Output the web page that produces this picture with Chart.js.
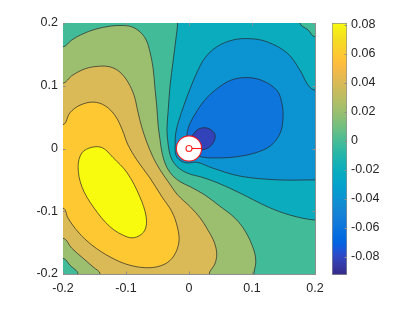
<!DOCTYPE html>
<html><head><meta charset="utf-8">
<script src="https://cdn.jsdelivr.net/npm/chart.js@4.4.1/dist/chart.umd.min.js"></script>
<style>
html,body{margin:0;padding:0;background:#fff;}
#wrap{position:relative;width:411px;height:309px;overflow:hidden;}
#main{position:absolute;left:0;top:0;}
#cbar{position:absolute;left:320px;top:0;}
</style></head><body>
<div id="wrap"><canvas id="main" width="411" height="309"></canvas><canvas id="cbar" width="91" height="309"></canvas></div>
<script>
// ---------- data (data units) ----------
const xTicks = [-0.2, -0.1, 0, 0.1, 0.2];
const yTicks = [-0.2, -0.1, 0, 0.1, 0.2];
const cbarTicks = [-0.08, -0.06, -0.04, -0.02, 0, 0.02, 0.04, 0.06, 0.08];
const colorLimits = [-0.0924, 0.0814];
const axisLimits = [-0.2, 0.2];

// contour level 0.00
const c000 = [[-0.2,0.162],[-0.186,0.173],[-0.170,0.182],[-0.149,0.190],[-0.125,0.195],[-0.106,0.196],[-0.091,0.194],[-0.078,0.186],[-0.068,0.173],[-0.062,0.154],[-0.057,0.128],[-0.054,0.096],[-0.051,0.065],[-0.049,0.037],[-0.046,0.014],[-0.043,-0.006],[-0.037,-0.026],[-0.027,-0.042],[-0.014,-0.053],[0.002,-0.061],[0.025,-0.074],[0.049,-0.092],[0.073,-0.111],[0.090,-0.133],[0.103,-0.162],[0.106,-0.181],[0.103,-0.2]];
const c000b = [[-0.2,-0.175],[-0.189,-0.186],[-0.176,-0.2]];
// contour level 0.02
const c002 = [[-0.2,0.104],[-0.186,0.116],[-0.165,0.127],[-0.144,0.131],[-0.125,0.130],[-0.110,0.122],[-0.097,0.106],[-0.087,0.084],[-0.081,0.058],[-0.075,0.034],[-0.067,0.010],[-0.057,-0.014],[-0.046,-0.034],[-0.033,-0.053],[-0.018,-0.074],[0.002,-0.093],[0.018,-0.111],[0.030,-0.130],[0.040,-0.149],[0.044,-0.168],[0.041,-0.184],[0.032,-0.2]];
const c002b = [[-0.2,-0.143],[-0.186,-0.159],[-0.168,-0.175],[-0.152,-0.189],[-0.141,-0.2]];
// contour level 0.04
const c004 = [[-0.2,0.038],[-0.189,0.057],[-0.173,0.069],[-0.152,0.074],[-0.133,0.068],[-0.117,0.052],[-0.106,0.030],[-0.097,0.006],[-0.083,-0.018],[-0.062,-0.047],[-0.043,-0.077],[-0.027,-0.101],[-0.018,-0.127],[-0.016,-0.149],[-0.024,-0.171],[-0.038,-0.184],[-0.062,-0.190],[-0.094,-0.186],[-0.125,-0.173],[-0.154,-0.154],[-0.176,-0.133],[-0.192,-0.111],[-0.2,-0.095]];
// contour level 0.06 (closed)
const c006 = [[-0.170,-0.007],[-0.154,0.002],[-0.137,0.001],[-0.121,-0.014],[-0.098,-0.039],[-0.078,-0.077],[-0.068,-0.109],[-0.070,-0.130],[-0.083,-0.141],[-0.098,-0.141],[-0.125,-0.125],[-0.152,-0.093],[-0.170,-0.061],[-0.176,-0.029]];
// contour level -0.02
const cm002 = [[-0.018,0.2],[-0.021,0.173],[-0.025,0.141],[-0.030,0.101],[-0.033,0.061],[-0.035,0.030],[-0.033,0.006],[-0.030,-0.010],[-0.024,-0.023],[-0.014,-0.033],[0.002,-0.041],[0.018,-0.045],[0.046,-0.055],[0.081,-0.071],[0.125,-0.093],[0.160,-0.106],[0.2,-0.114]];
const cm002b = [[0.176,0.2],[0.189,0.189],[0.2,0.178]];
// contour level -0.04
const cm004 = [[0.2,0.093],[0.189,0.101],[0.176,0.125],[0.156,0.152],[0.124,0.170],[0.097,0.175],[0.070,0.173],[0.044,0.162],[0.025,0.144],[0.013,0.122],[0.002,0.096],[-0.008,0.069],[-0.016,0.045],[-0.021,0.025],[-0.022,0.006],[-0.021,-0.010],[-0.014,-0.019],[-0.003,-0.023],[0.013,-0.022],[0.037,-0.031],[0.081,-0.044],[0.141,-0.050],[0.2,-0.050]];
// contour level -0.06 (closed)
const cm006 = [[-0.003,0.017],[0.000,0.036],[0.011,0.057],[0.025,0.077],[0.044,0.095],[0.067,0.109],[0.092,0.113],[0.117,0.108],[0.140,0.092],[0.148,0.069],[0.149,0.045],[0.144,0.023],[0.129,0.004],[0.105,-0.007],[0.073,-0.0135],[0.041,-0.015],[0.021,-0.0135],[0.006,-0.007]];
// contour level -0.08 (closed)
const cm008 = [[0.003,0.0135],[0.011,0.028],[0.022,0.033],[0.033,0.031],[0.041,0.023],[0.040,0.012],[0.032,0.002],[0.021,-0.002],[0.0095,-0.001]];
// probe marker: centre and radius
const probeCenter = [0, 0];
const probeRadius = 0.02;

// ---------- style ----------
const parula = [[0.2081,0.1663,0.5292],[0.2116,0.1898,0.5777],[0.2123,0.2138,0.6270],[0.2081,0.2386,0.6771],[0.1959,0.2645,0.7279],[0.1707,0.2919,0.7792],[0.1253,0.3242,0.8303],[0.0591,0.3598,0.8683],[0.0117,0.3875,0.8820],[0.0060,0.4086,0.8828],[0.0165,0.4266,0.8786],[0.0329,0.4430,0.8720],[0.0498,0.4586,0.8641],[0.0629,0.4737,0.8554],[0.0723,0.4887,0.8467],[0.0779,0.5040,0.8384],[0.0793,0.5200,0.8312],[0.0749,0.5375,0.8263],[0.0641,0.5570,0.8240],[0.0488,0.5772,0.8228],[0.0343,0.5966,0.8199],[0.0265,0.6137,0.8135],[0.0239,0.6287,0.8038],[0.0231,0.6418,0.7913],[0.0228,0.6535,0.7768],[0.0267,0.6642,0.7607],[0.0384,0.6743,0.7436],[0.0590,0.6838,0.7254],[0.0843,0.6928,0.7062],[0.1133,0.7015,0.6859],[0.1453,0.7098,0.6646],[0.1801,0.7177,0.6424],[0.2178,0.7250,0.6193],[0.2586,0.7317,0.5954],[0.3022,0.7376,0.5712],[0.3482,0.7424,0.5473],[0.3953,0.7459,0.5244],[0.4420,0.7481,0.5033],[0.4871,0.7491,0.4840],[0.5300,0.7491,0.4661],[0.5709,0.7485,0.4494],[0.6099,0.7473,0.4337],[0.6473,0.7456,0.4188],[0.6834,0.7435,0.4044],[0.7184,0.7411,0.3905],[0.7525,0.7384,0.3768],[0.7858,0.7356,0.3633],[0.8185,0.7327,0.3498],[0.8507,0.7299,0.3360],[0.8824,0.7274,0.3217],[0.9139,0.7258,0.3063],[0.9450,0.7261,0.2886],[0.9739,0.7314,0.2666],[0.9938,0.7455,0.2403],[0.9990,0.7653,0.2164],[0.9955,0.7861,0.1967],[0.9880,0.8066,0.1794],[0.9789,0.8271,0.1633],[0.9697,0.8481,0.1475],[0.9626,0.8705,0.1309],[0.9589,0.8949,0.1132],[0.9598,0.9218,0.0948],[0.9661,0.9514,0.0755],[0.9763,0.9831,0.0538]];
const rgb = c => 'rgb(' + c.map(v => Math.round(v * 255)).join(',') + ')';
function colorAt(v) {
  const t = (v - colorLimits[0]) / (colorLimits[1] - colorLimits[0]);
  const i = Math.min(63, Math.max(0, Math.round(t * 63)));
  return rgb(parula[i]);
}
const TEXT = '#262626';
const AXIS = '#8f8f8f';
const LINE = '#262626';
Chart.defaults.font.family = '"Liberation Sans", Arial, Helvetica, sans-serif';
Chart.defaults.font.size = 12.5;
Chart.defaults.color = TEXT;

// ---------- geometry helpers (extend edge points outside the axes so clipping hides joins) ----------
const B = axisLimits[1], E = 0.06;
function ext(p) {
  const [x, y] = p;
  if (Math.abs(x + B) < 1e-9) return [x - E, y];
  if (Math.abs(x - B) < 1e-9) return [x + E, y];
  if (Math.abs(y + B) < 1e-9) return [x, y - E];
  if (Math.abs(y - B) < 1e-9) return [x, y + E];
  return p;
}
const openPts = c => [ext(c[0]), ...c, ext(c[c.length - 1])];
const closedPts = c => [c[c.length - 1], ...c, c[0], c[1]];
const rev = c => c.slice().reverse();
const O = B + E;
const toXY = pts => pts.map(([x, y]) => ({x, y}));

const datasets = [];
function region(pts, color) {
  datasets.push({data: toXY(pts), showLine: true, fill: 'shape', backgroundColor: color,
    borderWidth: 0, pointRadius: 0, tension: 0.35, xAxisID: 'x', yAxisID: 'y'});
}
function contourLine(pts, closed) {
  const n = pts.length;
  datasets.push({data: toXY(pts), showLine: true, fill: false, borderColor: LINE, borderWidth: 0.7,
    pointRadius: 0, tension: 0.35, xAxisID: 'x', yAxisID: 'y',
    segment: closed ? {borderColor: s => (s.p0DataIndex === 0 || s.p1DataIndex === n - 1) ? 'rgba(0,0,0,0)' : LINE} : undefined});
}

// filled regions, bottom to top (colour = colormap at the region's upper level)
region([...openPts(c000), [-O, -O]], colorAt(0.02));               // >= 0.00
region([...openPts(c000b), [-O, -O]], colorAt(0));                  // < 0.00 corner
region([...openPts(c002), ...openPts(rev(c002b))], colorAt(0.04));  // >= 0.02
region(openPts(c004), colorAt(0.06));                               // >= 0.04
region(closedPts(c006), colorAt(colorLimits[1]));                   // >= 0.06
region([...openPts(cm002), [O, O]], colorAt(-0.02));                // <= -0.02
region([...openPts(cm002b), [O, O]], colorAt(0));                   // > -0.02 corner
region(openPts(cm004), colorAt(-0.04));                             // <= -0.04
region(closedPts(cm006), colorAt(-0.06));                           // <= -0.06
region(closedPts(cm008), colorAt(-0.08));                           // <= -0.08
// contour lines
[c000, c000b, c002, c002b, c004, cm002, cm002b, cm004].forEach(c => contourLine(openPts(c), false));
[c006, cm006, cm008].forEach(c => contourLine(closedPts(c), true));
// probe marker
const pxRadius = ctx => {
  const s = ctx.chart.scales.x;
  return Math.abs(s.getPixelForValue(probeCenter[0] + probeRadius) - s.getPixelForValue(probeCenter[0]));
};
datasets.push({data: [{x: probeCenter[0], y: probeCenter[1]}], showLine: false, pointRadius: pxRadius,
  pointBackgroundColor: '#ffffff', pointBorderColor: 'rgba(255,0,0,0.85)', pointBorderWidth: 1.1, xAxisID: 'x', yAxisID: 'y'});
datasets.push({data: [{x: probeCenter[0], y: probeCenter[1]}, {x: probeCenter[0] + probeRadius, y: probeCenter[1]}],
  showLine: true, fill: false, borderColor: 'rgba(255,0,0,0.9)', borderWidth: 1.1, pointRadius: 0, xAxisID: 'x', yAxisID: 'y'});
datasets.push({data: [{x: probeCenter[0], y: probeCenter[1]}], showLine: false, pointRadius: 3,
  pointBackgroundColor: '#ffffff', pointBorderColor: 'rgba(255,0,0,0.85)', pointBorderWidth: 1.1, xAxisID: 'x', yAxisID: 'y'});
datasets.forEach((d, i) => { d.order = -i; });

const bgPlugin = {
  id: 'areaBg',
  beforeDatasetsDraw(chart) {
    const a = chart.chartArea, ctx = chart.ctx;
    ctx.save(); ctx.fillStyle = colorAt(0); ctx.fillRect(a.left, a.top, a.right - a.left, a.bottom - a.top); ctx.restore();
  }
};
// inward tick marks (MATLAB style), placed from the scales' own ticks
const TL = 2.5;
const inTicks = {
  id: 'inTicks',
  afterDatasetsDraw(chart, args, opts) {
    const ctx = chart.ctx, a = chart.chartArea;
    ctx.save(); ctx.strokeStyle = AXIS; ctx.lineWidth = 1;
    (opts.axes || []).forEach(([id, sides]) => {
      const s = chart.scales[id];
      s.ticks.forEach(t => {
        const p = Math.round(s.getPixelForValue(t.value)) + 0.5;
        ctx.beginPath();
        if (s.isHorizontal()) {
          if (sides.includes('b')) { ctx.moveTo(p, a.bottom); ctx.lineTo(p, a.bottom - TL); }
          if (sides.includes('t')) { ctx.moveTo(p, a.top); ctx.lineTo(p, a.top + TL); }
        } else {
          if (sides.includes('l')) { ctx.moveTo(a.left, p); ctx.lineTo(a.left + TL, p); }
          if (sides.includes('r')) { ctx.moveTo(a.right, p); ctx.lineTo(a.right - TL, p); }
        }
        ctx.stroke();
      });
    });
    ctx.restore();
  }
};
const tickSet = arr => s => { s.ticks = arr.map(v => ({value: v})); };
const lab = v => String(Math.round(v * 1000) / 1000);

new Chart(document.getElementById('main'), {
  type: 'scatter',
  data: {datasets},
  options: {
    responsive: false, animation: false, events: [], indexAxis: 'y',
    layout: {padding: {left: 0, top: 23, right: 96, bottom: 0}},
    elements: {line: {capBezierPoints: false}},
    plugins: {legend: {display: false}, tooltip: {enabled: false}, inTicks: {axes: [['x', 'bt'], ['y', 'lr']]}},
    scales: {
      x: {type: 'linear', position: 'bottom', min: axisLimits[0], max: axisLimits[1],
        afterBuildTicks: tickSet(xTicks), afterFit: s => { s.height = 35; },
        grid: {display: false, drawTicks: false}, border: {display: true, color: AXIS, width: 1},
        ticks: {padding: 7, callback: lab, maxRotation: 0, autoSkip: false, color: TEXT}},
      y: {type: 'linear', position: 'left', min: axisLimits[0], max: axisLimits[1],
        afterBuildTicks: tickSet(yTicks), afterFit: s => { s.width = 63; },
        grid: {display: false, drawTicks: false}, border: {display: true, color: AXIS, width: 1},
        ticks: {padding: 5, callback: lab, autoSkip: false, color: TEXT}},
      x2: {type: 'linear', position: 'top', min: axisLimits[0], max: axisLimits[1],
        afterFit: s => { s.height = 0; }, ticks: {display: false},
        grid: {display: false, drawTicks: false}, border: {display: true, color: AXIS, width: 1}},
      y2: {type: 'linear', position: 'right', min: axisLimits[0], max: axisLimits[1],
        afterFit: s => { s.width = 0; }, ticks: {display: false},
        grid: {display: false, drawTicks: false}, border: {display: true, color: AXIS, width: 1}}
    }
  },
  plugins: [bgPlugin, inTicks]
});

// colour bar
new Chart(document.getElementById('cbar'), {
  type: 'bar',
  data: {labels: ['cb'], datasets: [{data: [[colorLimits[0], colorLimits[1]]],
    backgroundColor: ctx => {
      const a = ctx.chart.chartArea; if (!a) return null;
      const g = ctx.chart.ctx.createLinearGradient(0, a.bottom, 0, a.top);
      parula.forEach((c, i) => g.addColorStop(i / 63, rgb(c)));
      return g;
    },
    borderColor: AXIS, borderWidth: 1, borderSkipped: false, barPercentage: 1, categoryPercentage: 1}]},
  options: {
    responsive: false, animation: false, events: [],
    layout: {padding: {left: 12, top: 23, right: 0, bottom: 34}},
    plugins: {legend: {display: false}, tooltip: {enabled: false}, inTicks: {axes: [['y', 'r']]}},
    scales: {
      x: {display: false},
      y: {position: 'right', min: colorLimits[0], max: colorLimits[1],
        afterBuildTicks: tickSet(cbarTicks), afterFit: s => { s.width = 64; },
        grid: {display: false, drawTicks: false}, border: {display: false},
        ticks: {padding: 4, callback: lab, autoSkip: false, color: TEXT}}
    }
  },
  plugins: [inTicks]
});
</script></body></html>
